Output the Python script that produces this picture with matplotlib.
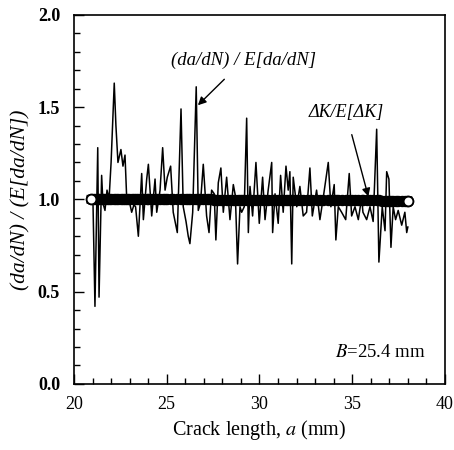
import matplotlib
matplotlib.use("Agg")
import matplotlib.pyplot as plt
from matplotlib.ticker import MultipleLocator

crack_length = [20.92, 21.02, 21.13, 21.28, 21.35, 21.49, 21.56, 21.67, 21.78, 21.89,
                22.00, 22.17, 22.26, 22.37, 22.53, 22.64, 22.75, 22.84, 22.96, 23.11,
                23.23, 23.32, 23.47, 23.65, 23.74, 23.92, 24.01, 24.19, 24.37, 24.46,
                24.64, 24.78, 24.91, 25.03, 25.21, 25.35, 25.57, 25.77, 25.89, 26.04,
                26.16, 26.25, 26.40, 26.59, 26.70, 26.82, 26.97, 27.15, 27.28, 27.42,
                27.56, 27.65, 27.78, 27.92, 28.05, 28.23, 28.41, 28.59, 28.70, 28.82,
                28.95, 29.04, 29.18, 29.31, 29.40, 29.49, 29.63, 29.81, 29.99, 30.17,
                30.30, 30.47, 30.66, 30.71, 30.84, 31.01, 31.14, 31.28, 31.43, 31.55,
                31.64, 31.74, 31.82, 32.01, 32.18, 32.36, 32.54, 32.72, 32.85, 33.08,
                33.26, 33.44, 33.71, 33.85, 34.03, 34.12, 34.25, 34.43, 34.65, 34.84,
                34.97, 35.15, 35.33, 35.51, 35.58, 35.78, 35.96, 36.13, 36.32, 36.44,
                36.62, 36.77, 36.86, 36.98, 37.09, 37.21, 37.34, 37.48, 37.67, 37.84,
                37.94, 38.00]

dadn_ratio = [1.00, 1.00, 0.42, 1.28, 0.47, 1.13, 0.98, 0.94, 1.05, 1.00,
              1.20, 1.63, 1.40, 1.20, 1.27, 1.18, 1.24, 1.01, 1.00, 0.93,
              0.97, 0.96, 0.80, 1.14, 0.89, 1.11, 1.19, 0.91, 1.11, 0.93,
              1.05, 1.28, 1.05, 1.12, 1.18, 0.93, 0.82, 1.49, 0.96, 0.88,
              0.80, 0.76, 0.93, 1.61, 0.94, 0.98, 1.19, 0.91, 0.82, 1.05,
              1.03, 0.78, 1.09, 1.17, 0.93, 1.12, 0.89, 1.08, 1.02, 0.65,
              0.96, 0.93, 0.96, 1.44, 0.82, 1.07, 0.91, 1.20, 0.87, 1.12,
              0.89, 1.05, 1.20, 0.82, 1.03, 0.87, 1.13, 0.93, 1.18, 1.05,
              1.15, 0.65, 1.12, 0.96, 1.07, 0.91, 0.93, 1.17, 0.91, 1.05,
              0.89, 1.01, 1.20, 0.96, 1.08, 0.78, 0.96, 0.93, 0.89, 1.14,
              0.91, 0.96, 0.89, 1.01, 0.93, 0.89, 0.96, 0.88, 1.38, 0.66,
              0.96, 0.83, 1.15, 1.11, 0.74, 0.96, 0.89, 0.94, 0.86, 0.93,
              0.82, 0.85]

dk_ratio = [1.000, 1.000, 1.000, 1.000, 1.000, 1.000, 1.000, 1.000, 1.000, 1.000,
            1.000, 1.000, 1.000, 1.000, 1.000, 1.000, 1.000, 1.000, 1.000, 1.000,
            1.000, 1.000, 1.000, 1.000, 1.000, 1.000, 1.000, 1.000, 1.000, 1.000,
            1.000, 1.000, 1.000, 1.000, 1.000, 1.000, 1.000, 1.000, 1.000, 1.000,
            1.000, 1.000, 1.000, 1.000, 1.000, 1.000, 1.000, 1.000, 1.000, 1.000,
            0.998, 0.998, 0.998, 0.998, 0.998, 0.998, 0.998, 0.998, 0.998, 0.998,
            0.998, 0.998, 0.998, 0.998, 0.998, 0.998, 0.998, 0.998, 0.998, 0.998,
            0.996, 0.996, 0.996, 0.996, 0.996, 0.996, 0.996, 0.996, 0.996, 0.996,
            0.996, 0.996, 0.996, 0.996, 0.996, 0.996, 0.996, 0.996, 0.996, 0.996,
            0.994, 0.994, 0.994, 0.994, 0.994, 0.994, 0.994, 0.994, 0.994, 0.994,
            0.994, 0.994, 0.994, 0.994, 0.994, 0.994, 0.994, 0.994, 0.994, 0.994,
            0.992, 0.992, 0.992, 0.992, 0.992, 0.992, 0.992, 0.992, 0.992, 0.992,
            0.992, 0.992]

x_ticks = [20, 25, 30, 35, 40]
y_ticks = [0.0, 0.5, 1.0, 1.5, 2.0]

plt.rcParams['font.family'] = ['Liberation Serif', 'DejaVu Serif']
plt.rcParams['mathtext.fontset'] = 'stix'

fig = plt.figure(figsize=(4.54, 4.50), dpi=100)
ax = fig.add_axes([0.163, 0.147, 0.817, 0.820])

ax.plot(crack_length, dadn_ratio, color='black', lw=1.1, zorder=2)
# dense open circles that merge into a thick band
ax.plot(crack_length, dk_ratio, linestyle='-', color='black', lw=6.5,
        marker='o', ms=7, mfc='none', mec='black', mew=1.2, zorder=3)
ax.plot([crack_length[0], crack_length[-1]], [dk_ratio[0], dk_ratio[-1]],
        linestyle='none', marker='o', ms=7, mfc='white', mec='black',
        mew=1.3, zorder=4)

ax.set_xlim(20, 40)
ax.set_ylim(0, 2.0)
ax.set_xticks(x_ticks)
ax.set_yticks(y_ticks)
ax.set_xticklabels([str(v) for v in x_ticks])
ax.set_yticklabels([f"{v:.1f}" for v in y_ticks])
ax.xaxis.set_minor_locator(MultipleLocator(1))
ax.yaxis.set_minor_locator(MultipleLocator(0.1))
ax.tick_params(which='both', direction='in', top=False, right=False,
               labelsize=13, width=1.0)
ax.tick_params(axis='x', which='major', pad=9)
ax.tick_params(axis='y', which='major', pad=10)
ax.tick_params(which='major', length=7)
ax.tick_params(which='minor', length=4)
for lab in ax.get_yticklabels():
    lab.set_fontweight('bold')
for s in ax.spines.values():
    s.set_linewidth(1.2)

ax.set_xlabel('Crack length, $\\it{a}$ (mm)', fontsize=14.5, labelpad=3)
ax.set_ylabel('(da/dN) / (E[da/dN])', fontsize=15.5, style='italic', labelpad=5)

ax.annotate('(da/dN) / E[da/dN]', xy=(26.68, 1.51), xytext=(29.16, 1.755),
            ha='center', va='center', fontsize=13.5, style='italic',
            arrowprops=dict(arrowstyle='-|>', color='black', lw=1.0,
                            shrinkA=8, shrinkB=0, mutation_scale=12))
ax.annotate('ΔK/E[ΔK]', xy=(35.87, 1.015), xytext=(34.66, 1.47),
            ha='center', va='center', fontsize=13, style='italic',
            arrowprops=dict(arrowstyle='-|>', color='black', lw=1.0,
                            shrinkA=8, shrinkB=0, mutation_scale=12))
ax.text(36.5, 0.17, '$\\it{B}$=25.4 mm', ha='center', va='center', fontsize=13.5)

fig.savefig('out.png', dpi=100)
